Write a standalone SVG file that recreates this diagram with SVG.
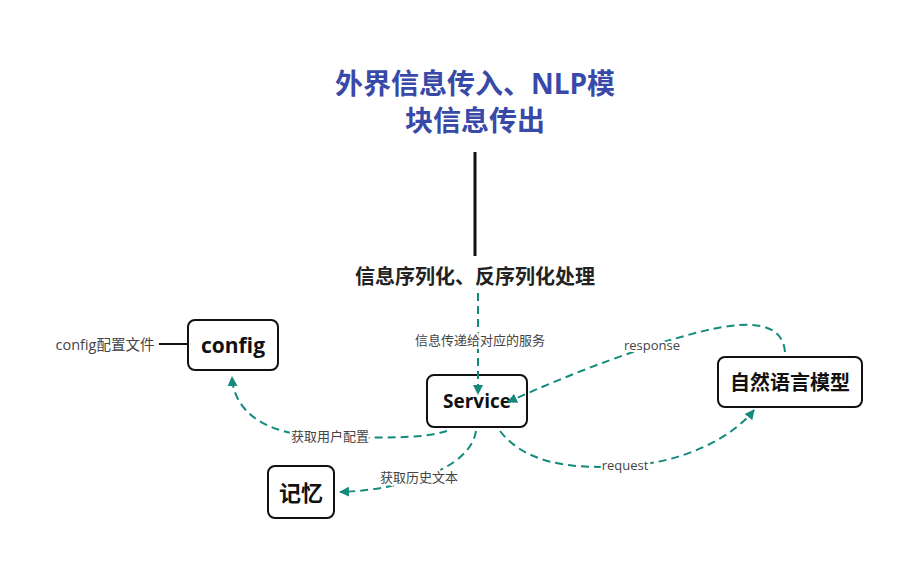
<svg xmlns="http://www.w3.org/2000/svg" width="913" height="568" viewBox="0 0 913 568">
<defs>
<style>
.t{font-family:"Open Sans","Noto Sans CJK SC",sans-serif}
.title{font-size:28px;font-weight:bold;fill:#3949a8;text-anchor:middle}
.sub{font-size:20px;font-weight:bold;fill:#222;text-anchor:middle}
.node rect{fill:#fff;stroke:#111;stroke-width:2}
.nt{font-weight:bold;fill:#111;text-anchor:middle;dominant-baseline:central}
.lbl{font-size:13px;fill:#444;text-anchor:middle;dominant-baseline:central;paint-order:stroke;stroke:#fff;stroke-width:4px}
.e{fill:none;stroke:#138a7c;stroke-width:2;stroke-dasharray:8 5;marker-end:url(#ah)}
</style>
<marker id="ah" viewBox="0 0 10 10" refX="9" refY="5" markerWidth="5" markerHeight="5" orient="auto" markerUnits="strokeWidth">
<path d="M0,0 L10,5 L0,10 z" fill="#138a7c"/>
</marker>
</defs>
<rect width="913" height="568" fill="#fff"/>
<g id="title">
<text class="t title" x="475" y="94">外界信息传入、NLP模</text>
<text class="t title" x="475" y="131">块信息传出</text>
<line x1="475" y1="152" x2="475" y2="256" stroke="#111" stroke-width="3"/>
</g>
<g id="serial">
<text class="t sub" x="475" y="284">信息序列化、反序列化处理</text>
</g>
<g id="config" class="node">
<rect x="188" y="320" width="90" height="50" rx="7"/>
<text class="t nt" x="233" y="345" font-size="21">config</text>
</g>
<g id="service" class="node">
<rect x="427" y="375" width="100" height="52" rx="7"/>
<text class="t nt" x="477" y="401" font-size="19">Service</text>
</g>
<g id="nlp" class="node">
<rect x="718" y="357" width="144" height="50" rx="7"/>
<text class="t nt" x="790" y="382" font-size="20">自然语言模型</text>
</g>
<g id="memory" class="node">
<rect x="268" y="466" width="66" height="52" rx="7"/>
<text class="t nt" x="301" y="492" font-size="22">记忆</text>
</g>
<g id="connectors">
<path class="e" d="M478,293 L478,394"/>
<path class="e" d="M447,431 C420,440 370,437 330,437 C262,436 234,410 232,377"/>
<path class="e" d="M476,431 C470,470 400,490 340,492"/>
<path class="e" d="M500,431 C530,470 590,468 625,466 C680,463 730,440 754,410"/>
<path class="e" d="M785,352 C783,328 762,322 730,326 C690,331 600,360 508,402"/>
<line x1="159" y1="344" x2="188" y2="344" stroke="#111" stroke-width="2"/>
<text class="t lbl" x="480" y="340">信息传递给对应的服务</text>
<text class="t lbl" x="330" y="436">获取用户配置</text>
<text class="t lbl" x="419" y="477">获取历史文本</text>
<text class="t lbl" x="625" y="465">request</text>
<text class="t lbl" x="652" y="345">response</text>
<text class="t lbl" x="105" y="344" style="font-size:14.5px">config配置文件</text>
</g>
</svg>
